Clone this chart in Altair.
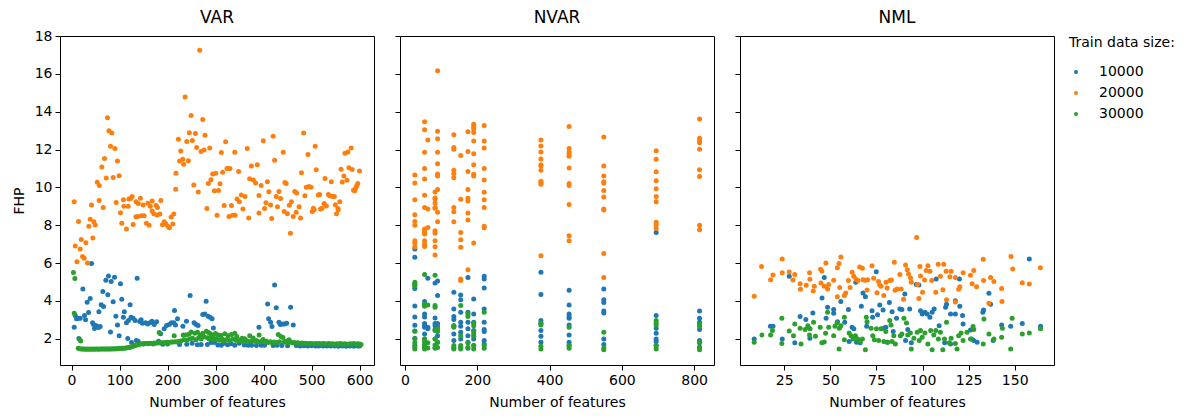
import altair as alt
import pandas as pd

SIZES = ["10000", "20000", "30000"]
COLORS = ["#1f77b4", "#ff7f0e", "#2ca02c"]
PANELS = ["VAR", "NVAR", "NML"]
Y_TICKS = [2, 4, 6, 8, 10, 12, 14, 16, 18]
X_TICKS = {"VAR": [0, 100, 200, 300, 400, 500, 600],
           "NVAR": [0, 200, 400, 600, 800],
           "NML": [25, 50, 75, 100, 125, 150]}
X_DOMAIN = {"VAR": [-24, 630], "NVAR": [-14, 855], "NML": [1, 171.3]}
Y_DOMAIN = [0.61, 18.0]

# ---------------- VAR ----------------
var_10000 = [
    (41.7, 5.97), (5.6, 2.61), (7.7, 3.22), (10.5, 3.05), (14.6, 3.08), (18.1, 3.08), (15.3, 2.01),
    (23.6, 4.63), (27, 3.22), (29.2, 3.0), (32.6, 3.93), (35.4, 3.38), (38.9, 4.12), (43.8, 2.84),
    (45.8, 2.75), (47.9, 2.54), (50.7, 2.7), (52.8, 2.66), (56.3, 2.59), (59.7, 2.64), (57, 3.42),
    (61.8, 3.8), (65.3, 4.49), (66.6, 3.7), (71.5, 5.09), (75.6, 4.32), (77, 5.32), (82.6, 5.02),
    (86.7, 3.95), (89.5, 5.25), (81.2, 2.36), (92.3, 3.19), (95.7, 2.73), (99.2, 2.15), (102, 4.91),
    (104.7, 4.09), (108, 3.14), (110, 3.42), (114.4, 2.84), (117.2, 2.01), (118.6, 2.96), (122, 3.79),
    (124, 3.14), (128.4, 3.08), (132.6, 2.96), (136.6, 5.2), (135, 1.9), (138.6, 1.87), (142, 2.91),
    (145, 3.0), (147.5, 2.82), (154.3, 2.84), (158.5, 2.78), (163.3, 2.84), (167.5, 2.92), (172.3, 2.75),
    (177.2, 2.89), (181.3, 1.87), (185.5, 2.26), (193, 2.52), (198, 2.7), (203.3, 2.75), (208, 2.84),
    (213, 2.84), (214.5, 3.49), (216.5, 2.73), (220.7, 3.05), (232, 2.66), (239.4, 2.92), (247, 4.28),
    (251.2, 1.76), (255.3, 2.84), (259.4, 2.75), (263.6, 2.7), (273.3, 3.28), (277.5, 3.31), (280.3, 3.98),
    (284.4, 3.19), (288.6, 3.14), (292.8, 3.05), (295.5, 2.57), (290.7, 1.8), (298, 1.8), (317.6, 1.76),
    (332.6, 1.73), (349.3, 1.76), (390.4, 2.61), (408.5, 3.84), (410.5, 3.05), (414.7, 2.87), (417.5, 2.64),
    (423, 4.84), (426.4, 3.63), (432, 2.87), (434.8, 2.75), (439, 2.78), (443.7, 2.78), (448, 2.82),
    (456.3, 3.66), (461.8, 2.73),
    (125, 1.80), (142, 1.74), (150, 1.72), (160, 1.73), (170, 1.72), (190, 1.71), (200, 1.72), (225, 1.70),
    (240, 1.71), (262, 1.68), (270, 1.69), (283, 1.70), (305, 1.67), (312, 1.66), (325, 1.68), (340, 1.66),
    (360, 1.67), (368, 1.65), (375, 1.66), (385, 1.64), (395, 1.65), (402, 1.66), (420, 1.64), (428, 1.65),
    (438, 1.64), (450, 1.63), (468, 1.64), (476, 1.62), (484, 1.63), (492, 1.62), (500, 1.63), (508, 1.61),
    (515, 1.62), (524, 1.61), (532, 1.62), (540, 1.61), (548, 1.62), (556, 1.60), (564, 1.61), (572, 1.60),
    (580, 1.61), (588, 1.60), (596, 1.61), (600, 1.62),
]
var_20000 = [
    (5.6, 9.24), (41.6, 9.07), (57.6, 9.31), (53.5, 10.27), (57.8, 10.1), (63.2, 11.07), (68.7, 11.53),
    (74.9, 13.68), (77.8, 12.99), (84, 12.87), (81.2, 12.17), (90.2, 12.06), (95.7, 11.39), (72.2, 10.49),
    (86.7, 10.52), (99.2, 10.61), (93, 9.2), (65.9, 8.93), (108, 9.35), (109, 9.0), (118, 9.0), (119.4, 9.38),
    (126.3, 9.52), (123, 9.41), (134.6, 9.24), (139, 9.15), (143.5, 9.43), (149, 9.07), (159, 9.16),
    (167.9, 9.28), (164, 9.0), (176, 9.04), (179, 8.93), (186, 9.3), (217, 9.9), (217.6, 10.74),
    (222.6, 12.54), (225, 11.39), (227.5, 11.92), (231.7, 11.49), (233.6, 11.22), (236.5, 14.77),
    (240, 12.43), (243.4, 11.4), (245.4, 12.88), (249, 13.8), (251.7, 12.48), (254.6, 10.12), (258, 12.85),
    (260.6, 12.1), (264, 9.75), (267, 17.25), (269.8, 11.9), (273.3, 13.58), (276, 11.97), (278, 12.76),
    (282, 8.88), (287.8, 12.08), (285, 10.2), (290.4, 10.4), (294, 10.7), (297.6, 9.82), (300.4, 10.74),
    (306, 9.84), (309.3, 10.19), (312, 11.84), (314.8, 10.8), (318, 9.04), (321, 12.41), (323.8, 11.0),
    (326.6, 11.0), (330, 11.0), (333, 9.04), (340, 11.85), (344.6, 9.38), (348, 10.84), (349.5, 9.24),
    (353.6, 9.6), (357, 8.86), (361.3, 9.52), (366, 12.06), (371, 10.46), (374.5, 11.13), (378.6, 10.39),
    (383.5, 10.23), (387, 11.2), (390.4, 9.57), (395, 10.1), (399.4, 12.46), (402, 8.88), (405, 9.18),
    (408, 10.3), (411, 9.77), (414.5, 9.07), (420, 12.7), (423, 11.43), (426.4, 9.52), (429, 8.97),
    (432, 9.78), (435.5, 9.41), (441, 11.85), (444.5, 10.25), (447, 10.2), (453.5, 9.06), (458, 9.24),
    (465, 9.78), (468.8, 9.7), (474, 8.97), (479, 10.77), (483.4, 12.87), (486, 9.55), (489, 10.0),
    (492.5, 11.74), (494.6, 10.05), (498.8, 10.0), (503.6, 8.9), (507.5, 12.17), (509.7, 10.93), (514, 9.6),
    (516.8, 9.62), (521.6, 8.9), (526, 9.15), (528, 10.47), (530.8, 9.02), (535, 9.62), (537.8, 9.55),
    (541, 10.3), (543.3, 9.52), (547.4, 9.52), (549.5, 9.08), (555, 8.88), (558.6, 9.24), (561.4, 10.96),
    (564, 10.28), (567.2, 10.6), (569.5, 11.8), (573.6, 10.37), (575.6, 11.87), (577.7, 11.04),
    (582.4, 12.08), (584.5, 10.95), (587.3, 9.85), (590, 9.82), (591.4, 9.94), (594, 10.08), (596.2, 10.2),
    (599.7, 10.86),
    (14.6, 8.2), (7.7, 6.9), (11.2, 6.07), (20.2, 7.25), (18.1, 6.74), (22.9, 6.35), (26.4, 6.25),
    (29.9, 7.07), (33.3, 6.0), (36.1, 7.95), (38.9, 8.32), (44.4, 7.32), (46.5, 8.18), (49.3, 8.01),
    (102, 8.66), (104.7, 8.1), (114.4, 7.8), (128.3, 8.04), (134, 8.45), (138, 8.46), (145.7, 8.5),
    (151.3, 8.5), (156, 8.1), (161.6, 8.0), (167.8, 8.75), (171.3, 8.6), (177.6, 8.54), (184, 8.59),
    (189.4, 8.02), (193, 8.18), (196.3, 8.08), (200.5, 7.94), (204, 7.87), (207.4, 8.43), (211, 8.06),
    (213, 8.59), (303, 8.52), (328, 8.46), (335.6, 8.52), (340.5, 8.52), (369, 8.38), (390.4, 8.64),
    (416.8, 8.36), (443, 8.73), (449.7, 8.6), (456, 7.58), (461.8, 8.46), (468, 8.68), (477, 8.38),
    (501.4, 8.73), (505.5, 8.82), (518.7, 8.85), (552, 8.6), (555.5, 8.82),
]
var_30000 = [
    (4, 5.5), (7, 5.18), (5.6, 3.35), (17.4, 1.94), (19, 1.88),
    (14, 1.50), (17, 1.47), (20, 1.46), (23, 1.45), (26, 1.45), (29, 1.44), (32, 1.45), (35, 1.44),
    (38, 1.45), (41, 1.44), (44, 1.45), (47, 1.44), (50, 1.45), (53, 1.45), (56, 1.44), (59, 1.45),
    (62, 1.45), (65, 1.46), (68, 1.45), (71, 1.46), (74, 1.46), (77, 1.45), (80, 1.46), (83, 1.46),
    (86, 1.47), (89, 1.46), (92, 1.47), (95, 1.47), (98, 1.48), (101, 1.48), (104, 1.49), (107, 1.49),
    (110, 1.50), (113, 1.51), (116, 1.52), (119, 1.53), (122, 1.55), (125, 1.57), (128, 1.60), (131, 1.63),
    (134, 1.66), (137, 1.68), (140, 1.70), (144, 1.72), (148, 1.73), (152, 1.74), (156, 1.75), (160, 1.75),
    (164, 1.76), (168, 1.75), (172, 1.77), (176, 1.76), (180, 1.78), (182.6, 2.33), (184, 1.77), (188, 1.79),
    (192, 1.78), (196, 1.80), (200, 1.81), (204, 1.80), (208, 1.82), (212, 1.83), (213.8, 2.15), (216, 1.84),
    (220, 1.83), (224, 1.86), (228, 1.88), (232.6, 2.19), (234, 1.95), (238, 2.2), (240, 1.92),
    (244.4, 2.24), (246, 1.98), (249.2, 2.36), (252, 2.02), (256.9, 2.29), (259, 1.95), (262.4, 2.34),
    (265, 2.05), (268, 2.19), (270, 1.98), (273.5, 2.29), (276, 2.1), (281, 2.4), (283, 2.05),
    (285.3, 2.33), (287, 1.98), (289.4, 2.26), (292, 2.08), (295, 2.15), (297, 1.95), (299.8, 2.27),
    (302, 2.0), (305.4, 2.2), (308, 1.92), (311, 2.17), (314, 1.98), (316, 1.88), (319.3, 2.26), (322, 1.95),
    (326.2, 2.15), (329, 1.9), (333.2, 2.22), (336, 1.98), (340, 2.29), (342, 1.92), (344.2, 2.12),
    (348, 1.88), (352, 1.95), (355.3, 2.03), (358, 1.85), (360.8, 2.0), (364, 1.9), (368, 1.84),
    (371.2, 2.15), (374, 1.88), (378.2, 2.04), (381, 1.86), (385, 1.9), (388, 1.83), (390.7, 2.2),
    (394, 1.85), (399, 1.96), (402, 1.82), (406, 1.86), (410, 1.8), (414, 1.84), (418, 1.79), (422, 1.82),
    (426, 1.8), (430.6, 2.22), (433, 1.84), (436.2, 2.12), (440.3, 2.06), (443, 1.83), (446, 1.86),
    (449, 1.8), (452.8, 1.94), (456, 1.82), (460, 1.78), (464, 1.8), (468, 1.77), (472, 1.79), (476, 1.75),
    (480, 1.77), (484, 1.74), (488, 1.76), (492, 1.73), (496, 1.75), (500, 1.74), (504, 1.72), (508, 1.74),
    (512, 1.73), (516, 1.75), (520, 1.72), (524, 1.74), (528, 1.73), (532, 1.72), (536, 1.74), (540, 1.72),
    (544, 1.73), (548, 1.71), (552, 1.73), (556, 1.72), (560, 1.74), (564, 1.71), (568, 1.73), (572, 1.72),
    (576, 1.71), (580, 1.73), (584, 1.72), (588, 1.74), (592, 1.71), (596, 1.73), (600, 1.72), (603, 1.70),
]

# ---------------- NVAR (values grouped by number of features) ----------------
nvar_10000 = {
    27: [6.74, 6.3, 4.89, 4.66, 3.73, 3.15, 2.71, 2.41, 2.02, 1.64],
    54: [3.96, 3.78, 3.31, 3.15, 2.8, 2.69, 2.6, 2.25, 1.99, 1.64, 1.53],
    63: [5.19, 2.6, 2.52],
    83: [4.94, 3.1, 2.8, 2.69, 2.48, 1.99, 1.53],
    90: [5.05, 4.28, 2.8, 2.64, 2.16, 1.81],
    135: [4.45, 3.57, 3.18, 3.01, 2.69, 2.25, 1.9, 1.53],
    154: [4.31, 4.06, 3.4, 2.87, 2.66, 2.34, 1.99, 1.55],
    174: [5.24, 3.4, 2.87, 2.52, 2.16, 1.81, 1.5],
    190: [4.1, 3.31, 2.87, 2.43, 1.99, 1.64],
    219: [5.3, 5.16, 4.68, 3.57, 2.87, 2.48, 2.38, 1.9, 1.72],
    376: [5.51, 4.33, 2.96, 2.81, 2.43, 2.13, 1.81],
    454: [4.56, 3.78, 3.31, 3.18, 3.08, 2.73, 2.2, 1.81, 1.64],
    550: [4.63, 4.06, 3.92, 3.47, 3.36, 1.99, 1.69],
    695: [7.62, 3.22, 2.55, 2.29, 1.99, 1.85, 1.64],
    815: [3.47, 3.08, 2.87, 2.48, 1.9, 1.78, 1.53],
}
nvar_20000 = {
    27: [10.65, 10.23, 9.35, 8.55, 8.2, 8.0, 7.18, 7.04, 6.85],
    54: [13.47, 13.05, 11.85, 11.0, 10.44, 9.58, 8.93, 7.8, 7.71, 7.62, 7.53, 7.18, 7.0, 6.88],
    63: [12.5, 8.85, 7.88],
    83: [9.75, 9.44, 9.17, 8.93, 9.38, 8.9, 7.71, 7.57, 7.18, 6.86, 6.42],
    90: [16.16, 12.96, 12.57, 11.85, 11.25, 10.7, 10.6, 9.89, 8.68, 8.18],
    135: [12.78, 12.11, 12.02, 10.9, 10.72, 10.51, 8.94, 8.71, 8.18],
    154: [11.69, 9.37, 7.62, 7.23, 6.83, 5.16, 5.07],
    174: [12.94, 11.9, 10.84, 9.89, 9.42, 9.28, 8.64, 8.27, 5.65],
    190: [13.33, 13.2, 13.08, 12.9, 12.45, 11.78, 11.2, 10.69, 10.6, 7.06],
    219: [13.27, 12.45, 12.08, 11.0, 10.39, 9.74, 9.35, 8.94, 7.94, 7.87],
    376: [12.5, 12.18, 11.87, 11.5, 11.2, 11.13, 10.9, 10.32, 10.25, 10.16, 6.39],
    454: [13.22, 12.06, 11.87, 11.76, 11.65, 11.02, 10.21, 10.1, 9.1, 7.44, 7.18],
    550: [12.66, 11.13, 10.6, 10.3, 10.23, 9.84, 9.49, 8.86, 8.8, 6.51, 5.24],
    695: [11.94, 11.48, 10.83, 10.35, 9.93, 9.51, 9.24, 8.15, 8.01, 7.83],
    815: [13.61, 12.59, 12.45, 12.36, 12.01, 10.93, 10.58, 8.0, 7.76],
}
nvar_30000 = {
    27: [4.98, 4.87, 4.77, 2.39, 1.99, 1.78, 1.55, 1.46],
    54: [5.4, 3.82, 3.71, 1.99, 1.81, 1.67, 1.55, 1.46],
    63: [3.78, 1.78, 1.51],
    83: [5.35, 3.75, 3.66, 2.43, 1.99, 1.67, 1.5],
    90: [2.52, 2.38, 1.81, 1.53],
    135: [2.69, 2.6, 1.64, 1.46],
    154: [3.75, 2.16, 1.64, 1.46],
    174: [3.31, 3.17, 1.78, 1.55],
    190: [2.83, 2.69, 2.38, 2.25, 2.13, 1.64, 1.46],
    219: [3.4, 1.64, 1.5],
    376: [2.83, 2.73, 1.6, 1.46],
    454: [2.6, 1.64, 1.5],
    550: [2.34, 1.51, 1.42],
    695: [2.96, 2.83, 2.73, 1.64, 1.46],
    815: [2.78, 2.66, 1.81, 1.55, 1.42],
}

# ---------------- NML ----------------
nml_10000 = [
    (8.7, 1.99), (17.5, 2.66), (18.9, 2.66), (23.9, 1.99), (27.7, 5.3), (30.7, 1.78), (33.6, 3.18),
    (36.7, 3.01), (37.9, 2.6), (38.9, 2.02), (40.5, 3.36), (45.5, 4.15), (46.7, 5.23), (47.7, 3.08),
    (48.5, 3.66), (51.8, 3.54), (51.8, 3.34), (53.9, 2.9), (55.7, 3.96), (57.8, 2.87), (59.8, 3.54),
    (61.8, 2.6), (62.7, 2.53), (63.8, 4.98), (60.2, 1.85), (64.2, 1.81), (66.2, 1.78), (66.8, 3.71),
    (67.7, 4.42), (69, 4.22), (69.7, 2.66), (72.6, 3.48), (72.9, 3.13), (74.9, 5.54), (75.6, 3.26),
    (76.8, 3.78), (78.6, 3.52), (79, 2.55), (80.1, 2.6), (82, 3.91), (83.5, 3.43), (84.1, 2.38),
    (85.9, 3.08), (87.7, 3.57), (88.8, 3.54), (90.4, 4.36), (90.8, 1.9), (92, 2.48), (93, 3.57),
    (93.9, 1.78), (96.6, 4.87), (98, 4.84), (98.9, 3.48), (99.8, 3.31), (101.3, 3.4), (102.5, 3.31),
    (104, 3.13), (105.2, 3.4), (106.3, 3.57), (107.4, 5.16), (109, 2.69), (112.5, 3.66), (113, 3.82),
    (115.2, 3.31), (117.8, 3.31), (117.8, 4.01), (120, 5.16), (120.2, 3.71), (121.7, 3.22), (122, 2.78),
    (126, 2.46), (126.6, 1.99), (129.6, 1.81), (132.7, 3.4), (133.1, 3.52), (136, 4.4), (136.9, 3.82),
    (138.3, 1.9), (142.9, 2.73), (147.8, 2.66), (154.1, 2.81), (157.9, 6.21), (164, 2.66), (112, 1.78),
    (115.2, 1.72), (127.8, 1.9), (80.8, 1.81),
]
nml_20000 = [
    (8.7, 4.24), (12.7, 5.81), (17.6, 5.12), (18.9, 5.37), (23.9, 6.21), (23.9, 5.49), (27.7, 5.53),
    (29.7, 5.1), (30.7, 5.4), (33.6, 4.91), (33.8, 4.61), (36.9, 4.82), (38.7, 5.49), (38.9, 5.14),
    (40.7, 4.52), (41.3, 4.77), (44.7, 5.67), (45.4, 5.58), (44.9, 4.94), (46.7, 4.77), (47.6, 6.0),
    (49.1, 4.86), (48.5, 4.63), (51.8, 5.09), (53.8, 5.75), (54.7, 5.98), (55.7, 6.32), (53.8, 4.22),
    (55.1, 4.7), (57.6, 4.28), (58.3, 4.42), (59.8, 5.07), (60.7, 4.7), (61.8, 5.51), (62.7, 5.3),
    (63.9, 5.14), (65, 5.07), (65.9, 5.79), (67.4, 5.72), (67.7, 5.12), (68.8, 5.09), (70.2, 5.12),
    (69.9, 4.58), (72.6, 5.86), (73.5, 5.19), (75.3, 4.43), (76.1, 5.02), (76.8, 4.84), (77.5, 4.77),
    (79, 4.29), (80.2, 4.98), (80.8, 4.68), (82.2, 5.07), (83.1, 5.1), (84.7, 6.04), (85.1, 4.56),
    (86.2, 4.63), (87.7, 5.4), (88.4, 4.63), (89.7, 4.08), (90.8, 5.9), (91.7, 5.65), (92.4, 5.42),
    (93.5, 5.21), (93.9, 4.98), (96.8, 7.35), (97.3, 4.86), (98.6, 5.81), (98, 4.12), (98.9, 5.31),
    (100, 4.45), (101.1, 5.1), (102, 5.6), (102.9, 5.86), (104, 5.56), (105, 5.07), (107.2, 4.45),
    (108.5, 5.93), (109.7, 5.3), (111, 4.59), (111.5, 5.93), (112.8, 5.56), (113, 4.06), (114.8, 5.28),
    (115.5, 5.56), (117.8, 5.23), (117.8, 3.94), (119.6, 4.61), (120.2, 4.75), (122, 5.49), (126, 5.35),
    (126.9, 4.91), (127.8, 5.6), (129.3, 4.75), (132.9, 6.2), (133.1, 5.07), (136, 3.87), (136.9, 5.24),
    (138.7, 5.03), (142.9, 4.66), (143.1, 3.96), (148, 6.35), (148.9, 5.68), (154.1, 4.96), (157.9, 4.89),
    (163.9, 5.75),
]
nml_30000 = [
    (8.7, 1.81), (12.9, 2.2), (17.6, 2.2), (18.6, 2.43), (23.7, 1.74), (23.7, 3.08), (27.7, 2.41),
    (30, 2.16), (30.7, 2.78), (33.6, 2.55), (34.1, 1.72), (36.3, 2.48), (37.8, 2.69), (39, 2.52),
    (38.7, 2.2), (40.9, 2.87), (41.9, 2.13), (44.5, 2.6), (45.4, 1.78), (46.7, 1.83), (47.4, 2.29),
    (48.5, 3.4), (49.1, 2.6), (51.8, 2.16), (52.5, 2.66), (53.6, 2.83), (54.7, 1.46), (54.9, 2.55),
    (55.7, 2.69), (57.6, 3.13), (57.6, 1.94), (60.2, 2.3), (61.2, 2.16), (62.3, 1.99), (63.6, 2.16),
    (64.8, 1.99), (66.1, 1.87), (67.4, 1.99), (69, 1.42), (69.5, 3.13), (69.9, 2.9), (72.1, 2.55),
    (73, 2.16), (73.9, 1.94), (75, 2.52), (76.2, 1.9), (77.5, 2.52), (79, 1.85), (80.1, 2.38), (81.1, 1.81),
    (82.2, 2.96), (82.9, 2.73), (83.5, 1.85), (84.4, 2.16), (85.3, 1.72), (88, 2.16), (88.8, 2.25),
    (89.9, 3.08), (91.3, 2.83), (92, 2.2), (93.4, 2.3), (93.9, 1.46), (95.3, 2.02), (97.1, 2.34),
    (98.2, 1.9), (98.9, 2.43), (99.8, 2.08), (101.3, 2.3), (102.9, 1.72), (104.4, 2.43), (105.2, 1.42),
    (106.1, 2.2), (107.2, 2.43), (108.6, 1.99), (109.7, 2.34), (111, 1.42), (111.9, 1.99), (113, 2.87),
    (114.5, 1.78), (115.5, 2.02), (117.8, 1.74), (118.7, 1.46), (119.6, 2.16), (120.9, 2.3), (122, 1.9),
    (124.1, 2.34), (126, 1.99), (127.4, 2.64), (127.8, 2.48), (132.9, 1.72), (133.3, 3.04), (136, 2.25),
    (138.7, 1.99), (143.3, 2.55), (142.9, 2.08), (148.6, 3.08), (147.8, 1.46), (154.1, 2.25), (157.9, 2.3),
    (164, 2.52),
]

# ---------------- build table ----------------
rows = []
for size, pts in zip(SIZES, [var_10000, var_20000, var_30000]):
    for x, y in pts:
        rows.append({"panel": "VAR", "size": size, "x": x, "y": y})
for size, grp in zip(SIZES, [nvar_10000, nvar_20000, nvar_30000]):
    for x, ys in grp.items():
        for y in ys:
            rows.append({"panel": "NVAR", "size": size, "x": x, "y": y})
for size, pts in zip(SIZES, [nml_10000, nml_20000, nml_30000]):
    for x, y in pts:
        rows.append({"panel": "NML", "size": size, "x": x, "y": y})
df = pd.DataFrame(rows)

FONT = "DejaVu Sans"
color = alt.Color(
    "size:N",
    scale=alt.Scale(domain=SIZES, range=COLORS),
    legend=alt.Legend(
        title="Train data size:", orient="right", offset=14,
        titleFontSize=14, titleFontWeight="normal", titleFont=FONT, titleColor="black",
        titlePadding=15, labelFontSize=14, labelFont=FONT, labelColor="black",
        symbolType="circle", symbolSize=16, symbolStrokeWidth=0, rowPadding=7,
        symbolOffset=0, labelOffset=16,
    ),
)


def panel(name, first):
    d = df[df["panel"] == name]
    if first:
        yenc = alt.Y("y:Q", title="FHP",
                     scale=alt.Scale(domain=Y_DOMAIN, nice=False, zero=False),
                     axis=alt.Axis(values=Y_TICKS, titlePadding=8))
        title_offset = 2
    else:
        yenc = alt.Y("y:Q", title=None,
                     scale=alt.Scale(domain=Y_DOMAIN, nice=False, zero=False),
                     axis=alt.Axis(values=Y_TICKS, labels=False))
        title_offset = 9
    return alt.Chart(d).mark_circle(size=25, opacity=1).encode(
        x=alt.X("x:Q", title="Number of features",
                scale=alt.Scale(domain=X_DOMAIN[name], nice=False, zero=False),
                axis=alt.Axis(values=X_TICKS[name], titlePadding=8)),
        y=yenc,
        color=color,
    ).properties(
        width=314, height=329,
        title=alt.TitleParams(name, fontSize=17, fontWeight="normal", font=FONT,
                              color="black", anchor="middle", offset=title_offset),
    )


chart = alt.hconcat(
    panel("VAR", True), panel("NVAR", False), panel("NML", False), spacing=19
).properties(
    padding={"left": 11, "top": 8, "right": 5, "bottom": 5}
).configure(
    background="white"
).configure_view(
    stroke="black", strokeWidth=1
).configure_axis(
    domain=False, grid=False, tickColor="black", tickSize=5, labelColor="black",
    labelFont=FONT, labelFontSize=14, titleFont=FONT, titleFontSize=14,
    titleFontWeight="normal", titleColor="black", labelPadding=3,
)

chart.save("out.html", embed_options={"renderer": "svg", "actions": False})
